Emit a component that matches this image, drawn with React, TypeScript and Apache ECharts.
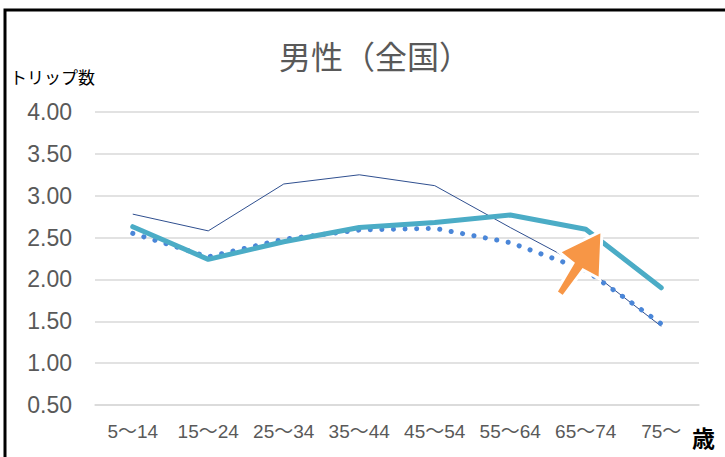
import React, { useEffect, useRef } from "react";
import * as echarts from "echarts";

const categories = ["5～14", "15～24", "25～34", "35～44", "45～54", "55～64", "65～74", "75～"];
const thickSeries = [2.63, 2.24, 2.45, 2.62, 2.68, 2.77, 2.6, 1.9];
const thinSeries = [2.78, 2.58, 3.14, 3.25, 3.12, 2.62, 2.14, 1.44];
const dottedSeries = [2.55, 2.27, 2.48, 2.59, 2.61, 2.44, 2.11, 1.47];
const yTicks = { min: 0.5, max: 4, interval: 0.5 };

const LATIN = "'Liberation Sans', 'Noto Sans CJK JP', sans-serif";
const CJK = "'Noto Sans CJK JP', sans-serif";

export default function App() {
  const ref = useRef<HTMLDivElement>(null);
  useEffect(() => {
    document.body.style.margin = "0";
    const chart = echarts.init(ref.current!, null, { renderer: "svg" });
    chart.setOption({
      animation: false,
      backgroundColor: "#ffffff",
      title: {
        text: "男性（全国）",
        left: 370,
        top: 34,
        textAlign: "center",
        textStyle: { fontFamily: CJK, fontSize: 32, fontWeight: "normal", color: "#595959" },
      },
      grid: { left: 95, right: 26, top: 112, bottom: 52, containLabel: false },
      xAxis: {
        type: "category",
        data: categories,
        boundaryGap: true,
        axisLine: { show: true, lineStyle: { color: "#D9D9D9", width: 1.5 } },
        axisTick: { show: false },
        axisLabel: {
          interval: 0,
          margin: 17,
          fontFamily: LATIN,
          fontSize: 19,
          color: "#595959",
        },
      },
      yAxis: {
        type: "value",
        min: yTicks.min,
        max: yTicks.max,
        interval: yTicks.interval,
        axisLine: { show: false },
        axisTick: { show: false },
        splitLine: { lineStyle: { color: "#D9D9D9", width: 1.5 } },
        axisLabel: {
          margin: 23,
          fontFamily: LATIN,
          fontSize: 23,
          color: "#595959",
          formatter: (v: number) => v.toFixed(2),
        },
      },
      series: [
        {
          type: "line",
          data: thinSeries,
          symbol: "none",
          lineStyle: { color: "#2F4F8F", width: 1 },
          z: 2,
        },
        {
          type: "line",
          data: dottedSeries,
          symbol: "none",
          lineStyle: { color: "#4A86D8", width: 5, type: [0.1, 11.5], cap: "round" },
          z: 3,
        },
        {
          type: "line",
          data: thickSeries,
          symbol: "none",
          lineStyle: { color: "#4BACC6", width: 5, cap: "round", join: "round" },
          z: 4,
        },
      ],
      graphic: [
        {
          type: "rect",
          shape: { x: 5, y: 10, width: 760, height: 480 },
          style: { fill: "none", stroke: "#000000", lineWidth: 3 },
          silent: true,
          z: 10,
        },
        {
          type: "text",
          left: 10,
          top: 68,
          style: { text: "トリップ数", font: "17px " + CJK, fill: "#000000" },
          z: 10,
        },
        {
          type: "text",
          left: 692,
          top: 425,
          style: { text: "歳", font: "bold 23px " + CJK, fill: "#000000" },
          z: 10,
        },
        {
          type: "polygon",
          shape: {
            points: [
              [602, 231],
              [600, 279],
              [583, 270],
              [563, 297],
              [556, 292],
              [573, 263],
              [559, 252],
            ],
          },
          style: { fill: "#F79646", stroke: "#ffffff", lineWidth: 3, lineJoin: "miter" },
          z: 20,
        },
      ],
    });
    return () => chart.dispose();
  }, []);
  return <div ref={ref} style={{ width: 725, height: 457 }} />;
}
